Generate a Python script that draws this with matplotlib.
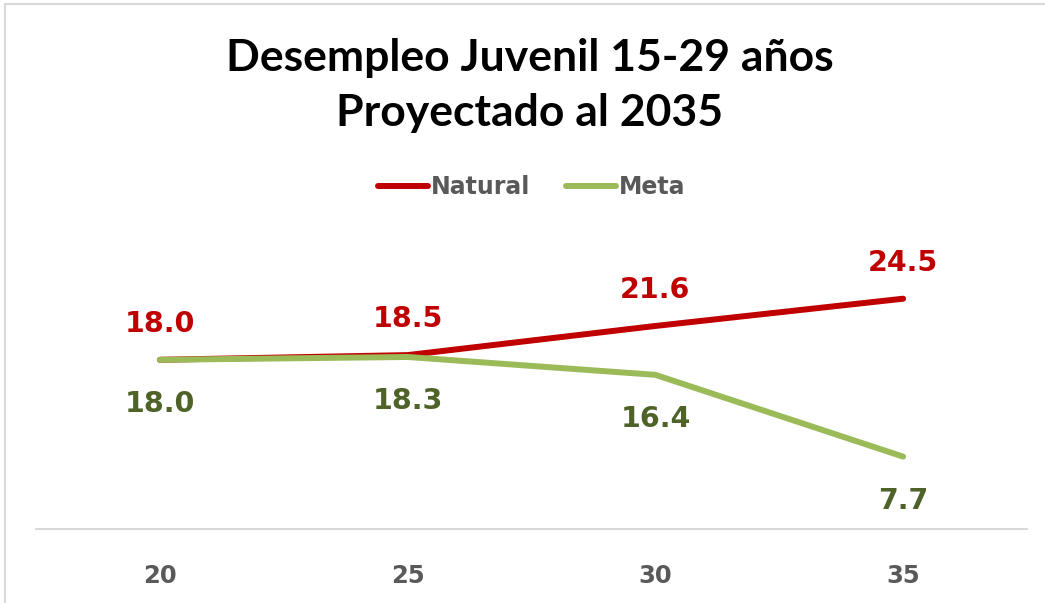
import matplotlib.pyplot as plt
from matplotlib.patches import Rectangle
from matplotlib.lines import Line2D

years = ['20', '25', '30', '35']
natural = [18.0, 18.5, 21.6, 24.5]
meta = [18.0, 18.3, 16.4, 7.7]

red = '#C00000'
green = '#9BBB59'
dark_green = '#4F6228'
gray_text = '#595959'

fig = plt.figure(figsize=(10.45, 6.03), dpi=100)
fig.patch.set_facecolor('white')

# chart border (only top and left edges visible)
fig.add_artist(Rectangle((5 / 1045, -0.05), 1.2, 1 - 4 / 603 + 0.05,
                         transform=fig.transFigure, fill=False,
                         edgecolor='#D9D9D9', linewidth=1.5))

ax = fig.add_axes([36 / 1045, 1 - 529 / 603, (1027 - 36) / 1045, 282 / 603])
x = list(range(len(years)))

ax.plot(x, natural, color=red, linewidth=4.3, solid_capstyle='round', zorder=2)
ax.plot(x, meta, color=green, linewidth=4.3, solid_capstyle='round', zorder=3)

for xi, v in zip(x, natural):
    ax.annotate(f'{v:.1f}', (xi, v), xytext=(0, 26), textcoords='offset points',
                ha='center', va='center', color=red, fontsize=20.5,
                fontweight='bold', family='DejaVu Sans', annotation_clip=False)
for xi, v in zip(x, meta):
    ax.annotate(f'{v:.1f}', (xi, v), xytext=(0, -32), textcoords='offset points',
                ha='center', va='center', color=dark_green, fontsize=20.5,
                fontweight='bold', family='DejaVu Sans', annotation_clip=False)

ax.set_xlim(-0.5, 3.5)
ax.set_ylim(0, 30)
ax.set_xticks(x)
ax.set_xticklabels(years, fontsize=17.5, fontweight='bold', color=gray_text,
                   family='DejaVu Sans')
ax.tick_params(axis='x', length=0, pad=25)
ax.set_yticks([])
for side in ['left', 'right', 'top']:
    ax.spines[side].set_visible(False)
ax.spines['bottom'].set_color('#D9D9D9')
ax.spines['bottom'].set_linewidth(1.5)

fig.text(530 / 1045, 1 - 58 / 603, 'Desempleo Juvenil 15-29 años',
         ha='center', va='center', fontsize=32, fontweight='bold', family='Lato')
fig.text(530 / 1045, 1 - 113 / 603, 'Proyectado al 2035',
         ha='center', va='center', fontsize=32, fontweight='bold', family='Lato')

handles = [Line2D([], [], color=red, linewidth=4.3, solid_capstyle='round'),
           Line2D([], [], color=green, linewidth=4.3, solid_capstyle='round')]
leg = fig.legend(handles, ['Natural', 'Meta'], loc='center',
                 bbox_to_anchor=(532 / 1045, 1 - 187 / 603), ncol=2,
                 frameon=False, handlelength=2.1, handletextpad=0.15,
                 columnspacing=1.5,
                 prop={'family': 'DejaVu Sans', 'weight': 'bold', 'size': 17})
for t in leg.get_texts():
    t.set_color(gray_text)

fig.savefig('out.png', dpi=100)
